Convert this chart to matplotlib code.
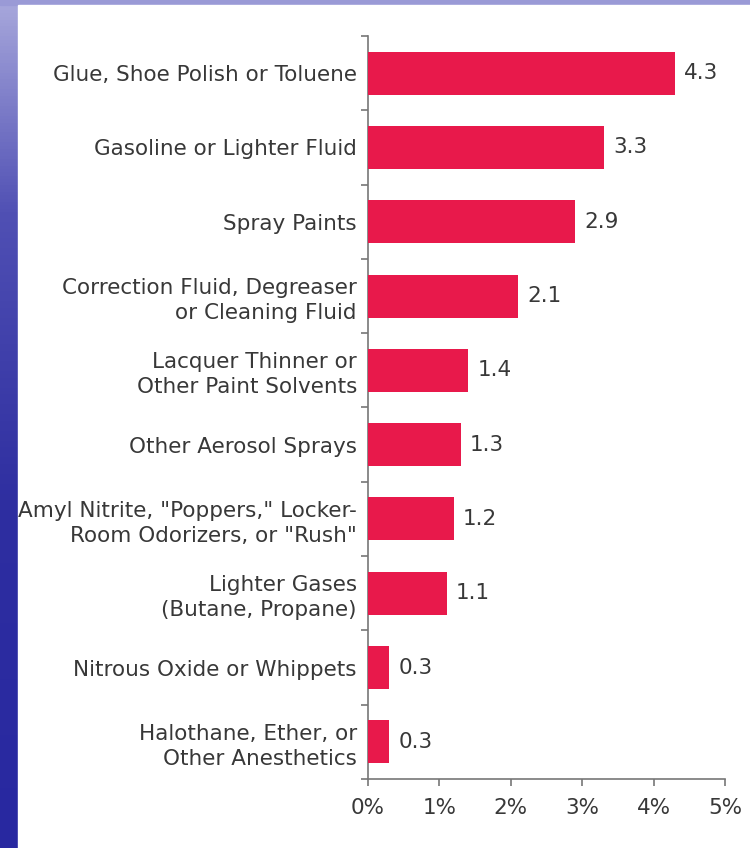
import numpy as np
import matplotlib
matplotlib.use("Agg")
import matplotlib.pyplot as plt
from matplotlib.colors import LinearSegmentedColormap

categories = [
    "Glue, Shoe Polish or Toluene",
    "Gasoline or Lighter Fluid",
    "Spray Paints",
    "Correction Fluid, Degreaser\nor Cleaning Fluid",
    "Lacquer Thinner or\nOther Paint Solvents",
    "Other Aerosol Sprays",
    "Amyl Nitrite, \"Poppers,\" Locker-\nRoom Odorizers, or \"Rush\"",
    "Lighter Gases\n(Butane, Propane)",
    "Nitrous Oxide or Whippets",
    "Halothane, Ether, or\nOther Anesthetics",
]
values = [4.3, 3.3, 2.9, 2.1, 1.4, 1.3, 1.2, 1.1, 0.3, 0.3]
xticks = [0, 1, 2, 3, 4, 5]
xticklabels = ["0%", "1%", "2%", "3%", "4%", "5%"]

plt.rcParams['font.family'] = ['DejaVu Sans']

W, H = 750, 848
fig = plt.figure(figsize=(W / 100, H / 100), dpi=100)

# background blue gradient
bg = fig.add_axes([0, 0, 1, 1])
cmap = LinearSegmentedColormap.from_list(
    "b", [(0, "#A8A8DC"), (0.25, "#5050B4"), (0.6, "#2E2EA0"), (1, "#2828A0")])
grad = np.linspace(0, 1, 256).reshape(-1, 1)
bg.imshow(grad, aspect="auto", cmap=cmap, extent=[0, 1, 0, 1], origin="upper")
bg.set_xlim(0, 1)
bg.set_ylim(0, 1)
bg.axis("off")
bg.add_patch(plt.Rectangle((0, 1 - 5 / H), 1, 5 / H, color="#9A9AD6", zorder=1))
# white panel
bg.add_patch(plt.Rectangle((18 / W, 0), 1, 1 - 5 / H, color="white", zorder=2))

ax = fig.add_axes([368 / W, 69 / H, 357 / W, 743 / H])
ax.set_facecolor("none")
y = np.arange(len(categories))
ax.barh(y, values, height=0.58, color="#E8194B", zorder=3)
ax.set_xlim(0, 5)
ax.set_ylim(len(categories) - 0.5, -0.5)

txt = "#383838"
fs = 15.5
for yi, v in zip(y, values):
    ax.text(v + 0.13, yi, f"{v}", va="center", ha="left", fontsize=fs, color=txt)

ax.set_yticks(y)
ax.set_yticklabels(categories, fontsize=fs, color=txt, linespacing=1.3)
ax.set_yticks(np.arange(-0.5, len(categories), 1.0), minor=True)
ax.tick_params(axis="y", which="major", length=0, pad=8)
ax.tick_params(axis="y", which="minor", length=5, color="#777777", width=1.2)
for lbl in ax.get_yticklabels():
    lbl.set_horizontalalignment("right")

ax.set_xticks(xticks)
ax.set_xticklabels(xticklabels, fontsize=fs, color=txt)
ax.tick_params(axis="x", length=5, color="#777777", width=1.2, pad=9)

for s in ["top", "right"]:
    ax.spines[s].set_visible(False)
for s in ["left", "bottom"]:
    ax.spines[s].set_color("#777777")
    ax.spines[s].set_linewidth(1.2)

fig.savefig("out.png", dpi=100)
